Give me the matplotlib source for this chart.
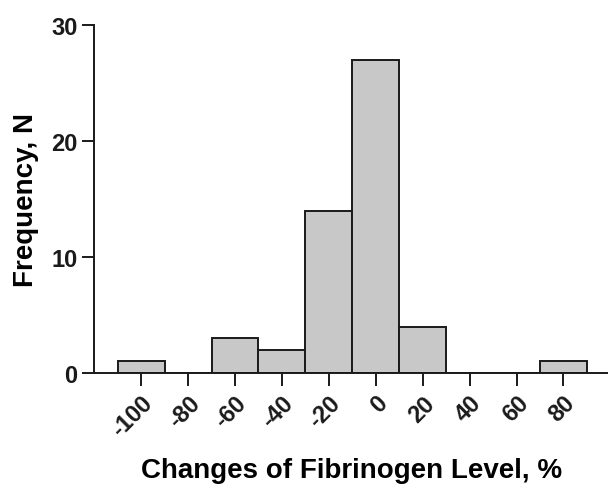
import numpy as np
import matplotlib.pyplot as plt

# Histogram counts per 20% bin (bin centres)
bin_centers = [-100, -80, -60, -40, -20, 0, 20, 40, 60, 80]
counts = [1, 0, 3, 2, 14, 27, 4, 0, 0, 1]
bin_width = 20

plt.rcParams["font.family"] = ["Liberation Sans", "DejaVu Sans"]
plt.rcParams["font.weight"] = "bold"

fig = plt.figure(figsize=(6.08, 4.89), dpi=100)
ax = fig.add_axes([0.155, 0.235, 0.845, 0.712])

ax.bar(bin_centers, counts, width=bin_width, color="#c8c8c8",
       edgecolor="#1a1a1a", linewidth=1.4)

ax.set_xlim(-120, 99)
ax.set_ylim(0, 30)
ax.set_xticks(bin_centers)
ax.set_xticklabels([str(v) for v in bin_centers], rotation=45,
                   ha="right", va="top", rotation_mode="anchor")
ax.set_yticks([0, 10, 20, 30])

for s in ["top", "right"]:
    ax.spines[s].set_visible(False)
for s in ["left", "bottom"]:
    ax.spines[s].set_linewidth(1.4)
    ax.spines[s].set_color("#1a1a1a")

ax.tick_params(axis="both", direction="out", length=9, width=1.4,
               labelsize=17, colors="#1a1a1a")
ax.tick_params(axis="x", pad=4)
ax.tick_params(axis="y", pad=3)

ax.set_ylabel("Frequency, N", fontsize=20, fontweight="bold", labelpad=9)
ax.set_xlabel("Changes of Fibrinogen Level, %", fontsize=20,
              fontweight="bold", labelpad=12)

fig.savefig("out.png", dpi=100)
